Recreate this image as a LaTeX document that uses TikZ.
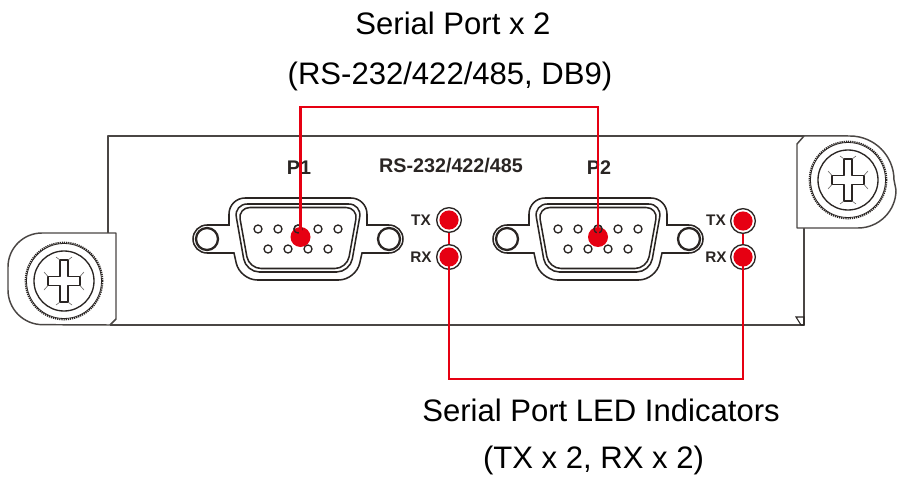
\documentclass[tikz,border=0pt]{standalone}
\usepackage{fontspec}
\setmainfont{Liberation Sans}
\definecolor{redline}{HTML}{E60012}
\definecolor{ink}{HTML}{2A2523}
\tikzset{
  panel/.style={draw=ink!85,line width=1.5pt,line join=round},
  thin part/.style={draw=ink,line width=1.15pt},
  caption/.style={font=\fontsize{23.3}{27}\selectfont,text=black,inner sep=0pt,anchor=base},
  portlabel/.style={font=\fontsize{14.8}{17}\bfseries\selectfont,text=ink,inner sep=0pt},
  ledlabel/.style={font=\fontsize{11.5}{14}\bfseries\selectfont,text=ink,inner sep=0pt},
  led/.style={circle,draw=ink,line width=1pt,fill=white,minimum size=18.5pt,inner sep=0pt,
    path picture={\fill[redline] (path picture bounding box.center) circle (7.2pt);}},
  reddot/.style={circle,fill=redline,minimum size=15pt,inner sep=0pt},
  wire/.style={draw=redline,line width=1.9pt}
}
\newcommand{\dbshell}[1]{%
 \begin{scope}[xshift=#1*0.75pt]
  \draw[thin part,fill=white] (207,225) -- (229,225)
     [rounded corners=12pt] -- (229,198) -- (367,198) [rounded corners=0pt] -- (367,225) -- (389,225)
     arc[start angle=90,end angle=-90,radius=10.5pt] -- (362,253)
     [rounded corners=13pt] -- (356,280) -- (240,280) [rounded corners=0pt] -- (234,253) -- (207,253)
     arc[start angle=270,end angle=90,radius=10.5pt] -- cycle;
  \draw[thin part,fill=white,rounded corners=10pt] (234,204) -- (362,204) -- (350,272) -- (246,272) -- cycle;
  \draw[thin part,rounded corners=9pt] (238,207.5) -- (358,207.5) -- (347,268.5) -- (249,268.5) -- cycle;
  \draw[thin part,fill=white,line width=1.7pt] (207,239) circle (11);
  \draw[thin part,fill=white,line width=1.7pt] (389,239) circle (11);
  \foreach \px in {258,278,298,318,338} \draw[thin part,line width=1pt] (\px,229) circle (4);
  \foreach \px in {268,288,308,328} \draw[thin part,line width=1pt] (\px,249) circle (4);
 \end{scope}}
\newcommand{\screw}[2]{%
 \begin{scope}[shift={(#1,#2)}]
  \draw[ink,line width=1.3pt,dash pattern=on .9pt off .7pt] (0,0) circle (38.5);
  \draw[ink,line width=.6pt] (0,0) circle (37.5);
  \draw[ink,line width=1pt] (0,0) circle (30);
  \draw[ink,line width=.9pt,line join=round] (-4,-21) -- (4,-21) -- (4,-4.5) -- (16,-4.5) -- (16,4.5) -- (4,4.5) -- (4,21)
     -- (-4,21) -- (-4,4.5) -- (-16,4.5) -- (-16,-4.5) -- (-4,-4.5) -- cycle;
  \draw[ink!70,line width=.45pt] (-8,-24) -- (-4,-21) (8,-24) -- (4,-21) (-8,24) -- (-4,21) (8,24) -- (4,21)
     (-20,-9) -- (-16,-4.5) (20,-9) -- (16,-4.5) (-20,9) -- (-16,4.5) (20,9) -- (16,4.5);
 \end{scope}}
\begin{document}
\begin{tikzpicture}[x=0.75pt,y=-0.75pt]
\useasboundingbox (0,0) rectangle (897,478);
% panel
\draw[panel] (108,233) -- (108,136) -- (848,136);
\draw[panel] (804,228) -- (804,325) -- (110,325);
\draw[ink,line width=.8pt] (796,317) -- (804,317) -- (804,325) -- (801,325) -- cycle;
% left tab
\draw[panel,line width=1.1pt,fill=white] (116,233) -- (42,233) arc[start angle=90,end angle=180,radius=25.5pt] -- (8,290)
   arc[start angle=180,end angle=270,radius=26pt] -- (110,325) -- (116,319) -- cycle;
% right tab
\draw[panel,line width=1.1pt,fill=white] (797,228) -- (797,144) -- (804,136) -- (850,136)
   arc[start angle=90,end angle=0,radius=33pt] -- (896,190) arc[start angle=0,end angle=-90,radius=28.5pt] -- cycle;
\screw{64}{281}
\screw{848}{180}
% connectors
\dbshell{0}
\dbshell{300}
% labels
\node[portlabel] (lp1) at (299,168) {P1};
\node[portlabel] (lrs) at (451,166) {RS-232/422/485};
\node[portlabel] (lp2) at (599,168) {P2};
\node[ledlabel] (ltx1) at (421,220) {TX};
\node[ledlabel] (lrx1) at (421,257) {RX};
\node[ledlabel] (ltx2) at (716,220) {TX};
\node[ledlabel] (lrx2) at (716,257) {RX};
% LEDs and dots
\node[led] (tx1) at (449,220) {};
\node[led] (rx1) at (449,257) {};
\node[led] (tx2) at (743,221) {};
\node[led] (rx2) at (743,257) {};
\node[reddot] (d1) at (300.5,237) {};
\node[reddot] (d2) at (598,237) {};
\draw[thin part,line width=1pt] (298,229) circle (4);
\draw[thin part,line width=1pt] (598,229) circle (4);
% captions
\node[caption] (c1) at (453,35) {Serial Port x 2};
\node[caption] (c2) at (450,85) {(RS-232/422/485, DB9)};
\node[caption] (c3) at (601,421.5) {Serial Port LED Indicators};
\node[caption] (c4) at (593.5,468) {(TX x 2, RX x 2)};
% wires
\coordinate (wt) at (450,107);
\coordinate (wb) at (600,379);
\draw[wire] (d1.center) -- (d1.center |- wt) -- (d2.center |- wt) -- (d2.center);
\draw[wire] (tx1.south) -- (rx1.north);
\draw[wire] (tx2.south) -- (rx2.north);
\draw[wire] (rx1.center) -- (rx1.center |- wb) -- (rx2.center |- wb) -- (rx2.center);
\end{tikzpicture}
\end{document}
